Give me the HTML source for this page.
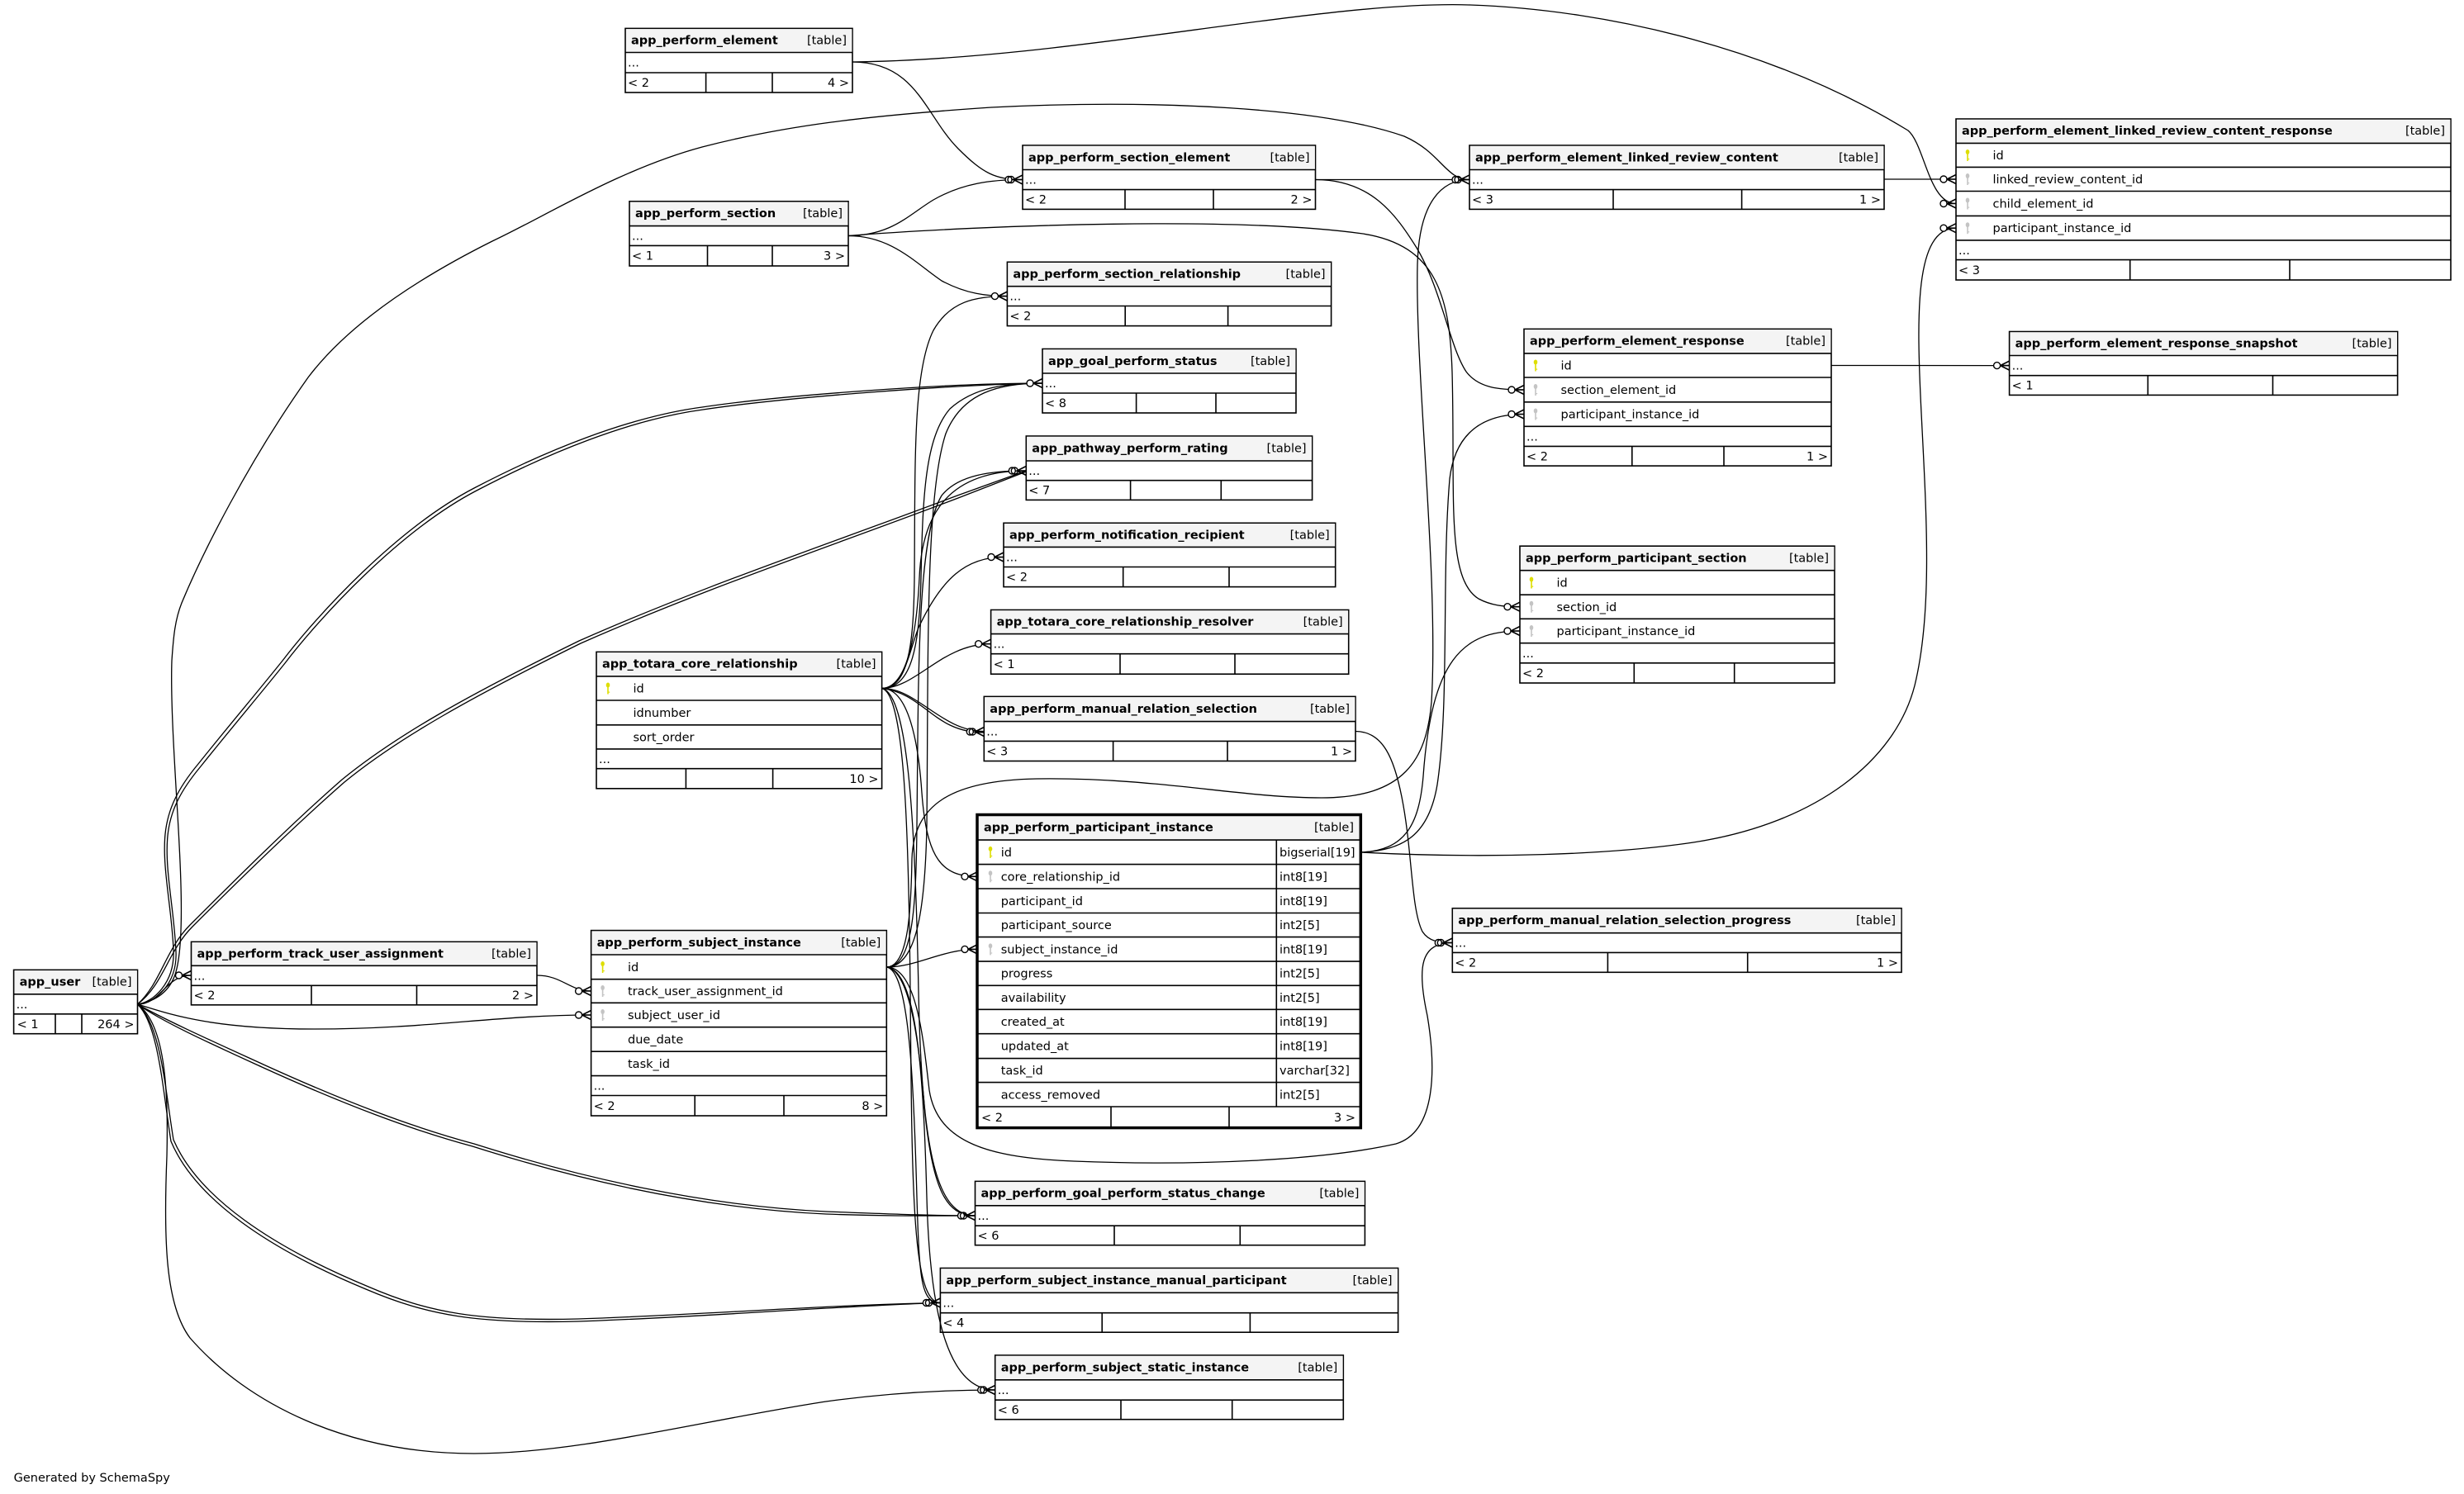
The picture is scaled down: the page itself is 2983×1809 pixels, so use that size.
<!DOCTYPE html>
<html><head><meta charset="utf-8"><style>
html,body{margin:0;padding:0;background:#fff;}
svg{display:block;}
text{font-family:"DejaVu Sans","Liberation Sans",sans-serif;font-size:14.5px;fill:#000;}
.b{font-weight:bold;}
.e{text-anchor:end;}
.bx{fill:#fff;stroke:#000;stroke-width:1.6;}
.hd{fill:#f4f4f4;stroke:none;}
.ln{stroke:#000;stroke-width:1.6;}
.ed{fill:none;stroke:#000;stroke-width:1.3;}
</style></head><body>
<svg width="2983" height="1809" viewBox="0 0 2983 1809" xmlns="http://www.w3.org/2000/svg">
<defs>
<g id="cf"><path d="M-11,0 L0,-5.5 M-11,0 L0,0 M-11,0 L0,5.5" stroke="#000" stroke-width="1.6" fill="none"/><circle cx="-15" cy="0" r="4" fill="#fff" stroke="#000" stroke-width="1.4"/></g>
<g id="cf2"><path d="M-11,0 L0,-5.5 M-11,0 L0,0 M-11,0 L0,5.5" stroke="#000" stroke-width="1.6" fill="none"/><circle cx="-17" cy="0" r="4" fill="#fff" stroke="#000" stroke-width="1.4"/><circle cx="-14" cy="0" r="4" fill="none" stroke="#000" stroke-width="1.4"/></g>
<g id="pk"><ellipse cx="0" cy="-4" rx="2.3" ry="3" fill="#dede00"/><rect x="-0.8" y="-2" width="1.6" height="9" fill="#dede00"/><rect x="0.6" y="4" width="1.6" height="1.2" fill="#dede00"/></g>
<g id="fk"><ellipse cx="0" cy="-4" rx="2.3" ry="3" fill="#c4c4c4"/><rect x="-0.8" y="-2" width="1.6" height="9" fill="#c4c4c4"/><rect x="0.6" y="4" width="1.6" height="1.2" fill="#c4c4c4"/></g>
</defs>

<!-- ===================== TABLES ===================== -->
<!-- T1 app_perform_element -->
<rect class="bx" x="757" y="34.4" width="275" height="77.6"/>
<rect class="hd" x="758" y="35.2" width="273.4" height="28.3"/>
<line class="ln" x1="757" y1="63.5" x2="1032" y2="63.5"/><line class="ln" x1="757" y1="88" x2="1032" y2="88"/>
<line class="ln" x1="854.6" y1="88" x2="854.6" y2="112"/><line class="ln" x1="935" y1="88" x2="935" y2="112"/>
<text class="b" x="764" y="53.5">app_perform_element</text><text class="e" x="1025" y="53.5">[table]</text>
<text x="760" y="80.7">...</text>
<text x="760" y="105">&lt; 2</text><text class="e" x="1028" y="105">4 &gt;</text>

<!-- T2 app_perform_section -->
<rect class="bx" x="762" y="243.8" width="265" height="78.2"/>
<rect class="hd" x="763" y="244.6" width="263.4" height="28.6"/>
<line class="ln" x1="762" y1="273.6" x2="1027" y2="273.6"/><line class="ln" x1="762" y1="297.4" x2="1027" y2="297.4"/>
<line class="ln" x1="856.5" y1="297.4" x2="856.5" y2="322"/><line class="ln" x1="935" y1="297.4" x2="935" y2="322"/>
<text class="b" x="769" y="263.2">app_perform_section</text><text class="e" x="1020" y="263.2">[table]</text>
<text x="765" y="290.5">...</text>
<text x="765" y="314.7">&lt; 1</text><text class="e" x="1023" y="314.7">3 &gt;</text>

<!-- T3 app_perform_section_element -->
<rect class="bx" x="1238" y="176" width="354.5" height="77.4"/>
<rect class="hd" x="1239" y="176.8" width="352.9" height="28.3"/>
<line class="ln" x1="1238" y1="205.5" x2="1592.5" y2="205.5"/><line class="ln" x1="1238" y1="229.6" x2="1592.5" y2="229.6"/>
<line class="ln" x1="1362" y1="229.6" x2="1362" y2="253.4"/><line class="ln" x1="1469" y1="229.6" x2="1469" y2="253.4"/>
<text class="b" x="1245" y="195.3">app_perform_section_element</text><text class="e" x="1585.5" y="195.3">[table]</text>
<text x="1241" y="222.5">...</text>
<text x="1241" y="246.5">&lt; 2</text><text class="e" x="1588.5" y="246.5">2 &gt;</text>

<!-- T4 app_perform_element_linked_review_content -->
<rect class="bx" x="1779" y="176" width="502" height="77.4"/>
<rect class="hd" x="1780" y="176.8" width="500.4" height="28.3"/>
<line class="ln" x1="1779" y1="205.5" x2="2281" y2="205.5"/><line class="ln" x1="1779" y1="229.6" x2="2281" y2="229.6"/>
<line class="ln" x1="1953" y1="229.6" x2="1953" y2="253.4"/><line class="ln" x1="2108.6" y1="229.6" x2="2108.6" y2="253.4"/>
<text class="b" x="1786" y="195.3">app_perform_element_linked_review_content</text><text class="e" x="2274" y="195.3">[table]</text>
<text x="1782" y="222.5">...</text>
<text x="1782" y="246.5">&lt; 3</text><text class="e" x="2277" y="246.5">1 &gt;</text>

<!-- T5 app_perform_element_linked_review_content_response -->
<rect class="bx" x="2368" y="144" width="599" height="195"/>
<rect class="hd" x="2369" y="144.8" width="597.4" height="28.2"/>
<line class="ln" x1="2368" y1="173.4" x2="2967" y2="173.4"/><line class="ln" x1="2368" y1="202.4" x2="2967" y2="202.4"/>
<line class="ln" x1="2368" y1="231.5" x2="2967" y2="231.5"/><line class="ln" x1="2368" y1="261.4" x2="2967" y2="261.4"/>
<line class="ln" x1="2368" y1="290.9" x2="2967" y2="290.9"/><line class="ln" x1="2368" y1="314.6" x2="2967" y2="314.6"/>
<line class="ln" x1="2578.7" y1="314.6" x2="2578.7" y2="339"/><line class="ln" x1="2772" y1="314.6" x2="2772" y2="339"/>
<text class="b" x="2375" y="163.2">app_perform_element_linked_review_content_response</text><text class="e" x="2960" y="163.2">[table]</text>
<use href="#pk" x="2382" y="188"/><text x="2412.5" y="192.9">id</text>
<use href="#fk" x="2382" y="217"/><text x="2412.5" y="222">linked_review_content_id</text>
<use href="#fk" x="2382" y="246.5"/><text x="2412.5" y="251.5">child_element_id</text>
<use href="#fk" x="2382" y="276.2"/><text x="2412.5" y="281.2">participant_instance_id</text>
<text x="2371" y="307.8">...</text>
<text x="2371" y="331.8">&lt; 3</text>

<!-- T6 app_perform_section_relationship -->
<rect class="bx" x="1219.4" y="317.3" width="392.2" height="77.3"/>
<rect class="hd" x="1220.4" y="318.1" width="390.6" height="28.2"/>
<line class="ln" x1="1219.4" y1="346.7" x2="1611.6" y2="346.7"/><line class="ln" x1="1219.4" y1="370.5" x2="1611.6" y2="370.5"/>
<line class="ln" x1="1362.2" y1="370.5" x2="1362.2" y2="394.6"/><line class="ln" x1="1486.6" y1="370.5" x2="1486.6" y2="394.6"/>
<text class="b" x="1226.4" y="336.5">app_perform_section_relationship</text><text class="e" x="1604.6" y="336.5">[table]</text>
<text x="1222.4" y="363.6">...</text>
<text x="1222.4" y="387.6">&lt; 2</text>

<!-- T7 app_goal_perform_status -->
<rect class="bx" x="1262" y="422.5" width="307" height="77.5"/>
<rect class="hd" x="1263" y="423.3" width="305.4" height="28.3"/>
<line class="ln" x1="1262" y1="452" x2="1569" y2="452"/><line class="ln" x1="1262" y1="476" x2="1569" y2="476"/>
<line class="ln" x1="1375.6" y1="476" x2="1375.6" y2="500"/><line class="ln" x1="1472" y1="476" x2="1472" y2="500"/>
<text class="b" x="1269" y="441.8">app_goal_perform_status</text><text class="e" x="1562" y="441.8">[table]</text>
<text x="1265" y="469">...</text>
<text x="1265" y="493">&lt; 8</text>

<!-- T8 app_pathway_perform_rating -->
<rect class="bx" x="1242.3" y="528" width="346.3" height="77.4"/>
<rect class="hd" x="1243.3" y="528.8" width="344.7" height="28.8"/>
<line class="ln" x1="1242.3" y1="558" x2="1588.6" y2="558"/><line class="ln" x1="1242.3" y1="581.7" x2="1588.6" y2="581.7"/>
<line class="ln" x1="1368.6" y1="581.7" x2="1368.6" y2="605.4"/><line class="ln" x1="1478.3" y1="581.7" x2="1478.3" y2="605.4"/>
<text class="b" x="1249.3" y="547.5">app_pathway_perform_rating</text><text class="e" x="1581.6" y="547.5">[table]</text>
<text x="1245.3" y="574.9">...</text>
<text x="1245.3" y="598.6">&lt; 7</text>

<!-- T9 app_perform_element_response -->
<rect class="bx" x="1845" y="398.4" width="372" height="165.7"/>
<rect class="hd" x="1846" y="399.2" width="370.4" height="28.3"/>
<line class="ln" x1="1845" y1="427.9" x2="2217" y2="427.9"/><line class="ln" x1="1845" y1="457" x2="2217" y2="457"/>
<line class="ln" x1="1845" y1="486.8" x2="2217" y2="486.8"/><line class="ln" x1="1845" y1="516.3" x2="2217" y2="516.3"/>
<line class="ln" x1="1845" y1="540.4" x2="2217" y2="540.4"/>
<line class="ln" x1="1975.8" y1="540.4" x2="1975.8" y2="564.1"/><line class="ln" x1="2087" y1="540.4" x2="2087" y2="564.1"/>
<text class="b" x="1852" y="417.7">app_perform_element_response</text><text class="e" x="2210" y="417.7">[table]</text>
<use href="#pk" x="1859" y="442.5"/><text x="1889.5" y="447.5">id</text>
<use href="#fk" x="1859" y="472"/><text x="1889.5" y="476.9">section_element_id</text>
<use href="#fk" x="1859" y="501.5"/><text x="1889.5" y="506.6">participant_instance_id</text>
<text x="1848" y="533.4">...</text>
<text x="1848" y="557.3">&lt; 2</text><text class="e" x="2213" y="557.3">1 &gt;</text>

<!-- T10 app_perform_element_response_snapshot -->
<rect class="bx" x="2432.6" y="401.5" width="470" height="76.9"/>
<rect class="hd" x="2433.6" y="402.3" width="468.4" height="27.8"/>
<line class="ln" x1="2432.6" y1="430.5" x2="2902.6" y2="430.5"/><line class="ln" x1="2432.6" y1="454.7" x2="2902.6" y2="454.7"/>
<line class="ln" x1="2600.3" y1="454.7" x2="2600.3" y2="478.4"/><line class="ln" x1="2751.5" y1="454.7" x2="2751.5" y2="478.4"/>
<text class="b" x="2439.6" y="420.5">app_perform_element_response_snapshot</text><text class="e" x="2895.6" y="420.5">[table]</text>
<text x="2435.6" y="447.6">...</text>
<text x="2435.6" y="471.6">&lt; 1</text>

<!-- T11 app_perform_notification_recipient -->
<rect class="bx" x="1215" y="633.3" width="401.7" height="77.3"/>
<rect class="hd" x="1216" y="634.1" width="400.1" height="27.9"/>
<line class="ln" x1="1215" y1="662.4" x2="1616.7" y2="662.4"/><line class="ln" x1="1215" y1="686.5" x2="1616.7" y2="686.5"/>
<line class="ln" x1="1359.7" y1="686.5" x2="1359.7" y2="710.6"/><line class="ln" x1="1488" y1="686.5" x2="1488" y2="710.6"/>
<text class="b" x="1222" y="652.4">app_perform_notification_recipient</text><text class="e" x="1609.7" y="652.4">[table]</text>
<text x="1218" y="679.5">...</text>
<text x="1218" y="703.6">&lt; 2</text>

<!-- T12 app_totara_core_relationship_resolver -->
<rect class="bx" x="1199.6" y="738.5" width="433.1" height="77.7"/>
<rect class="hd" x="1200.6" y="739.3" width="431.5" height="27.9"/>
<line class="ln" x1="1199.6" y1="767.6" x2="1632.7" y2="767.6"/><line class="ln" x1="1199.6" y1="791.7" x2="1632.7" y2="791.7"/>
<line class="ln" x1="1356" y1="791.7" x2="1356" y2="816.2"/><line class="ln" x1="1495" y1="791.7" x2="1495" y2="816.2"/>
<text class="b" x="1206.6" y="757.6">app_totara_core_relationship_resolver</text><text class="e" x="1625.7" y="757.6">[table]</text>
<text x="1202.6" y="784.7">...</text>
<text x="1202.6" y="809">&lt; 1</text>

<!-- T13 app_perform_manual_relation_selection -->
<rect class="bx" x="1191.3" y="843.4" width="449.7" height="78.1"/>
<rect class="hd" x="1192.3" y="844.2" width="448.1" height="29"/>
<line class="ln" x1="1191.3" y1="873.6" x2="1641" y2="873.6"/><line class="ln" x1="1191.3" y1="897.4" x2="1641" y2="897.4"/>
<line class="ln" x1="1347.6" y1="897.4" x2="1347.6" y2="921.5"/><line class="ln" x1="1486" y1="897.4" x2="1486" y2="921.5"/>
<text class="b" x="1198.3" y="863">app_perform_manual_relation_selection</text><text class="e" x="1634" y="863">[table]</text>
<text x="1194.3" y="890.5">...</text>
<text x="1194.3" y="914.5">&lt; 3</text><text class="e" x="1637" y="914.5">1 &gt;</text>

<!-- T14 app_perform_participant_section -->
<rect class="bx" x="1840" y="661.2" width="381" height="165.8"/>
<rect class="hd" x="1841" y="662" width="379.4" height="28.3"/>
<line class="ln" x1="1840" y1="690.7" x2="2221" y2="690.7"/><line class="ln" x1="1840" y1="720.2" x2="2221" y2="720.2"/>
<line class="ln" x1="1840" y1="749.3" x2="2221" y2="749.3"/><line class="ln" x1="1840" y1="778.7" x2="2221" y2="778.7"/>
<line class="ln" x1="1840" y1="802.8" x2="2221" y2="802.8"/>
<line class="ln" x1="1978.3" y1="802.8" x2="1978.3" y2="827"/><line class="ln" x1="2099.7" y1="802.8" x2="2099.7" y2="827"/>
<text class="b" x="1847" y="680.5">app_perform_participant_section</text><text class="e" x="2214" y="680.5">[table]</text>
<use href="#pk" x="1854" y="705.5"/><text x="1884.5" y="710.5">id</text>
<use href="#fk" x="1854" y="734.7"/><text x="1884.5" y="739.8">section_id</text>
<use href="#fk" x="1854" y="764"/><text x="1884.5" y="769">participant_instance_id</text>
<text x="1843" y="795.8">...</text>
<text x="1843" y="820">&lt; 2</text>

<!-- T15 app_totara_core_relationship -->
<rect class="bx" x="722" y="789.4" width="345.6" height="165.4"/>
<rect class="hd" x="723" y="790.2" width="344" height="28.3"/>
<line class="ln" x1="722" y1="818.9" x2="1067.6" y2="818.9"/><line class="ln" x1="722" y1="848" x2="1067.6" y2="848"/>
<line class="ln" x1="722" y1="877.8" x2="1067.6" y2="877.8"/><line class="ln" x1="722" y1="906.9" x2="1067.6" y2="906.9"/>
<line class="ln" x1="722" y1="930.7" x2="1067.6" y2="930.7"/>
<line class="ln" x1="830.4" y1="930.7" x2="830.4" y2="954.8"/><line class="ln" x1="935.6" y1="930.7" x2="935.6" y2="954.8"/>
<text class="b" x="729" y="808.7">app_totara_core_relationship</text><text class="e" x="1060.6" y="808.7">[table]</text>
<use href="#pk" x="736" y="833.5"/><text x="766.5" y="838.5">id</text>
<text x="766.5" y="867.9">idnumber</text>
<text x="766.5" y="897.4">sort_order</text>
<text x="725" y="923.8">...</text>
<text class="e" x="1063.6" y="947.8">10 &gt;</text>

<!-- T16 app_perform_participant_instance -->
<rect x="1183" y="986.5" width="464.3" height="379.1" fill="#fff" stroke="none"/>
<rect class="hd" x="1184" y="987.5" width="462.3" height="29.6"/>
<line class="ln" x1="1183" y1="1017.1" x2="1647.3" y2="1017.1"/>
<line class="ln" x1="1183" y1="1046.6" x2="1647.3" y2="1046.6"/>
<line class="ln" x1="1183" y1="1076" x2="1647.3" y2="1076"/>
<line class="ln" x1="1183" y1="1105.5" x2="1647.3" y2="1105.5"/>
<line class="ln" x1="1183" y1="1134.6" x2="1647.3" y2="1134.6"/>
<line class="ln" x1="1183" y1="1164.1" x2="1647.3" y2="1164.1"/>
<line class="ln" x1="1183" y1="1193.3" x2="1647.3" y2="1193.3"/>
<line class="ln" x1="1183" y1="1222.3" x2="1647.3" y2="1222.3"/>
<line class="ln" x1="1183" y1="1251.7" x2="1647.3" y2="1251.7"/>
<line class="ln" x1="1183" y1="1281.6" x2="1647.3" y2="1281.6"/>
<line class="ln" x1="1183" y1="1310.6" x2="1647.3" y2="1310.6"/>
<line class="ln" x1="1183" y1="1340" x2="1647.3" y2="1340"/>
<line class="ln" x1="1545.3" y1="1017.1" x2="1545.3" y2="1340"/>
<line class="ln" x1="1345" y1="1340" x2="1345" y2="1365.6"/><line class="ln" x1="1488" y1="1340" x2="1488" y2="1365.6"/>
<rect x="1183" y="986.5" width="464.3" height="379.1" fill="none" stroke="#000" stroke-width="3.5"/>
<text class="b" x="1191" y="1006.3">app_perform_participant_instance</text><text class="e" x="1639" y="1006.3">[table]</text>
<use href="#pk" x="1199" y="1031.9"/><text x="1211.7" y="1036.9">id</text><text x="1549" y="1036.9">bigserial[19]</text>
<use href="#fk" x="1199" y="1061.3"/><text x="1211.7" y="1066.3">core_relationship_id</text><text x="1549" y="1066.3">int8[19]</text>
<text x="1211.7" y="1095.8">participant_id</text><text x="1549" y="1095.8">int8[19]</text>
<text x="1211.7" y="1125.1">participant_source</text><text x="1549" y="1125.1">int2[5]</text>
<use href="#fk" x="1199" y="1149.4"/><text x="1211.7" y="1154.4">subject_instance_id</text><text x="1549" y="1154.4">int8[19]</text>
<text x="1211.7" y="1183.7">progress</text><text x="1549" y="1183.7">int2[5]</text>
<text x="1211.7" y="1212.8">availability</text><text x="1549" y="1212.8">int2[5]</text>
<text x="1211.7" y="1242">created_at</text><text x="1549" y="1242">int8[19]</text>
<text x="1211.7" y="1271.7">updated_at</text><text x="1549" y="1271.7">int8[19]</text>
<text x="1211.7" y="1301.1">task_id</text><text x="1549" y="1301.1">varchar[32]</text>
<text x="1211.7" y="1330.3">access_removed</text><text x="1549" y="1330.3">int2[5]</text>
<text x="1188" y="1357.8">&lt; 2</text><text class="e" x="1641" y="1357.8">3 &gt;</text>

<!-- T17 app_perform_manual_relation_selection_progress -->
<rect class="bx" x="1758.3" y="1099.8" width="543.7" height="77.5"/>
<rect class="hd" x="1759.3" y="1100.6" width="542.1" height="28.7"/>
<line class="ln" x1="1758.3" y1="1129.7" x2="2302" y2="1129.7"/><line class="ln" x1="1758.3" y1="1153.4" x2="2302" y2="1153.4"/>
<line class="ln" x1="1946.4" y1="1153.4" x2="1946.4" y2="1177.3"/><line class="ln" x1="2115.7" y1="1153.4" x2="2115.7" y2="1177.3"/>
<text class="b" x="1765.3" y="1119.2">app_perform_manual_relation_selection_progress</text><text class="e" x="2295" y="1119.2">[table]</text>
<text x="1761.3" y="1146.6">...</text>
<text x="1761.3" y="1170.4">&lt; 2</text><text class="e" x="2298" y="1170.4">1 &gt;</text>

<!-- T18 app_user -->
<rect class="bx" x="16.6" y="1174.4" width="149.9" height="77.3"/>
<rect class="hd" x="17.6" y="1175.2" width="148.3" height="28.2"/>
<line class="ln" x1="16.6" y1="1203.8" x2="166.5" y2="1203.8"/><line class="ln" x1="16.6" y1="1227.8" x2="166.5" y2="1227.8"/>
<line class="ln" x1="67" y1="1227.8" x2="67" y2="1251.7"/><line class="ln" x1="99" y1="1227.8" x2="99" y2="1251.7"/>
<text class="b" x="23.6" y="1193.6">app_user</text><text class="e" x="159.5" y="1193.6">[table]</text>
<text x="19.6" y="1220.8">...</text>
<text x="20.6" y="1244.8">&lt; 1</text><text class="e" x="162.5" y="1244.8">264 &gt;</text>

<!-- T19 app_perform_track_user_assignment -->
<rect class="bx" x="231.5" y="1140.4" width="418.5" height="76.4"/>
<rect class="hd" x="232.5" y="1141.2" width="416.9" height="27.7"/>
<line class="ln" x1="231.5" y1="1169.3" x2="650" y2="1169.3"/><line class="ln" x1="231.5" y1="1193.3" x2="650" y2="1193.3"/>
<line class="ln" x1="377" y1="1193.3" x2="377" y2="1216.8"/><line class="ln" x1="504.5" y1="1193.3" x2="504.5" y2="1216.8"/>
<text class="b" x="238.5" y="1159.4">app_perform_track_user_assignment</text><text class="e" x="643" y="1159.4">[table]</text>
<text x="234.5" y="1186.3">...</text>
<text x="234.5" y="1210">&lt; 2</text><text class="e" x="646" y="1210">2 &gt;</text>

<!-- T20 app_perform_subject_instance -->
<rect class="bx" x="715.6" y="1126.6" width="357.7" height="224.4"/>
<rect class="hd" x="716.6" y="1127.4" width="356.1" height="28.2"/>
<line class="ln" x1="715.6" y1="1156" x2="1073.3" y2="1156"/><line class="ln" x1="715.6" y1="1185.7" x2="1073.3" y2="1185.7"/>
<line class="ln" x1="715.6" y1="1214.3" x2="1073.3" y2="1214.3"/><line class="ln" x1="715.6" y1="1243.7" x2="1073.3" y2="1243.7"/>
<line class="ln" x1="715.6" y1="1273.2" x2="1073.3" y2="1273.2"/><line class="ln" x1="715.6" y1="1302.6" x2="1073.3" y2="1302.6"/>
<line class="ln" x1="715.6" y1="1326.5" x2="1073.3" y2="1326.5"/>
<line class="ln" x1="841.2" y1="1326.5" x2="841.2" y2="1351"/><line class="ln" x1="949" y1="1326.5" x2="949" y2="1351"/>
<text class="b" x="722.6" y="1145.8">app_perform_subject_instance</text><text class="e" x="1066.3" y="1145.8">[table]</text>
<use href="#pk" x="729.6" y="1171"/><text x="760" y="1175.9">id</text>
<use href="#fk" x="729.6" y="1200"/><text x="760" y="1205">track_user_assignment_id</text>
<use href="#fk" x="729.6" y="1229"/><text x="760" y="1234">subject_user_id</text>
<text x="760" y="1263.5">due_date</text>
<text x="760" y="1292.9">task_id</text>
<text x="718.6" y="1319.6">...</text>
<text x="718.6" y="1343.8">&lt; 2</text><text class="e" x="1069.3" y="1343.8">8 &gt;</text>

<!-- T21 app_perform_goal_perform_status_change -->
<rect class="bx" x="1180.5" y="1430.4" width="471.9" height="77.3"/>
<rect class="hd" x="1181.5" y="1431.2" width="470.3" height="28.2"/>
<line class="ln" x1="1180.5" y1="1459.8" x2="1652.4" y2="1459.8"/><line class="ln" x1="1180.5" y1="1484.2" x2="1652.4" y2="1484.2"/>
<line class="ln" x1="1349" y1="1484.2" x2="1349" y2="1507.7"/><line class="ln" x1="1501.3" y1="1484.2" x2="1501.3" y2="1507.7"/>
<text class="b" x="1187.5" y="1449.6">app_perform_goal_perform_status_change</text><text class="e" x="1645.4" y="1449.6">[table]</text>
<text x="1183.5" y="1477">...</text>
<text x="1183.5" y="1501">&lt; 6</text>

<!-- T22 app_perform_subject_instance_manual_participant -->
<rect class="bx" x="1138.4" y="1535.5" width="554.2" height="77.7"/>
<rect class="hd" x="1139.4" y="1536.3" width="552.6" height="28.6"/>
<line class="ln" x1="1138.4" y1="1565.3" x2="1692.6" y2="1565.3"/><line class="ln" x1="1138.4" y1="1589.7" x2="1692.6" y2="1589.7"/>
<line class="ln" x1="1334.2" y1="1589.7" x2="1334.2" y2="1613.2"/><line class="ln" x1="1513.4" y1="1589.7" x2="1513.4" y2="1613.2"/>
<text class="b" x="1145.4" y="1554.9">app_perform_subject_instance_manual_participant</text><text class="e" x="1685.6" y="1554.9">[table]</text>
<text x="1141.4" y="1582.5">...</text>
<text x="1141.4" y="1606.5">&lt; 4</text>

<!-- T23 app_perform_subject_static_instance -->
<rect class="bx" x="1204.7" y="1641" width="421.6" height="77.7"/>
<rect class="hd" x="1205.7" y="1641.8" width="420" height="28.6"/>
<line class="ln" x1="1204.7" y1="1670.8" x2="1626.3" y2="1670.8"/><line class="ln" x1="1204.7" y1="1695.2" x2="1626.3" y2="1695.2"/>
<line class="ln" x1="1357" y1="1695.2" x2="1357" y2="1718.7"/><line class="ln" x1="1491.7" y1="1695.2" x2="1491.7" y2="1718.7"/>
<text class="b" x="1211.7" y="1660.4">app_perform_subject_static_instance</text><text class="e" x="1619.3" y="1660.4">[table]</text>
<text x="1207.7" y="1688">...</text>
<text x="1207.7" y="1712">&lt; 6</text>

<text x="16.6" y="1794">Generated by SchemaSpy</text>

<!-- ===================== EDGES ===================== -->
<g class="ed">
<!-- app_perform_element -->
<path d="M1032,75 C1300,72 1600,0 1780,6 C1950,12 2150,60 2310,158 C2330,175 2335,246.5 2368,246.5"/>
<path d="M1032,75 C1110,75 1120,140 1160,180 C1190,210 1205,217.5 1238,217.5"/>
<!-- app_perform_section -->
<path d="M1027,285.5 C1080,285 1100,260 1130,242 C1165,222 1200,217.5 1238,217.5"/>
<path d="M1027,285.5 C1080,285.5 1110,320 1140,340 C1170,356 1195,358.6 1219.4,358.6"/>
<path d="M1027,285.5 C1200,272 1500,262 1650,283 C1740,297 1755,360 1758,450 C1762,600 1750,700 1790,725 C1805,733 1820,734.7 1840,734.7"/>
<!-- section_element -->
<path d="M1592.5,217.5 L1779,217.5"/>
<path d="M1592.5,217.5 C1660,217.5 1690,260 1715,300 C1745,350 1755,420 1775,450 C1790,470 1815,472 1845,472"/>
<!-- linked_review_content -> response -->
<path d="M2281,217 L2368,217"/>
<!-- element_response -> snapshot -->
<path d="M2217,442.5 L2432.6,442.6"/>
<!-- participant_instance id -->
<path d="M1647.3,1032 C1700,1030 1730,1010 1740,950 C1755,850 1745,700 1755,580 C1762,520 1800,501.5 1845,501.5"/>
<path d="M1647.3,1032 C1700,1030 1718,1000 1723,940 C1733,800 1770,764 1840,764"/>
<path d="M1647.3,1032 C1800,1040 1950,1035 2050,1020 C2200,997 2295,920 2318,830 C2340,740 2332,620 2326,500 C2320,380 2318,276.2 2368,276.2"/>
<!-- manual_relation_selection -> progress -->
<path d="M1641,885.5 C1675,885.5 1688,920 1697,965 C1710,1030 1708,1100 1722,1128 C1730,1140 1742,1141.5 1758.3,1141.5"/>
<!-- track -> subject_instance -->
<path d="M650,1181 C680,1181 690,1200 715.6,1200"/>
<!-- app_user fan -->
<path d="M166.5,1216 C195,1216 200,1181 231.5,1181"/>
<path d="M166.5,1216 C200,1226 250,1246 380,1246 C520,1246 600,1229 715.6,1229"/>
<path d="M166.5,1216 C190,1212 205,1200 212,1180 C222,1150 220,1080 217,1023 C214,960 206,860 208,800 C210,770 212,750 220,730 C245,670 300,560 373,457 C420,395 500,340 596,292 C660,262 750,205 850,178 C950,152 1050,140 1200,130 C1400,120 1600,130 1700,165 C1745,185 1750,217.5 1779,217.5"/>
<path d="M166.5,1216 C185,1214 212,1190 210,1150 C208,1100 196,1050 200,1010 C203,980 215,955 240,925 C280,875 310,840 342,800 C384,745 480,640 574,591 C660,546 760,505 850,493 C950,478 1150,464 1262,464"/>
<path d="M166.5,1216 C187,1215 215,1192 213,1152 C211,1102 199,1052 203,1012 C206,982 218,958 243,928 C283,878 313,843 345,803 C387,748 483,643 577,594 C663,549 762,508 851,496 C951,481 1150,466 1262,464"/>
<path d="M166.5,1216 C195,1190 200,1150 230,1120 C280,1070 350,1000 414,944 C480,890 570,840 701,776 C850,710 1000,660 1159,600 L1242.3,570"/>
<path d="M166.5,1216 C198,1192 203,1152 233,1122 C283,1072 353,1003 417,947 C483,893 573,843 703,779 C852,713 1002,663 1160,603 L1242.3,571"/>
<path d="M166.5,1216 C200,1235 260,1262 319,1289 C420,1335 500,1365 574,1385 C700,1425 850,1460 1000,1467 C1080,1470 1130,1472 1180.5,1472"/>
<path d="M166.5,1216 C198,1238 258,1265 317,1292 C418,1338 498,1368 572,1388 C698,1428 848,1463 1000,1470 C1080,1473 1130,1472 1180.5,1472"/>
<path d="M166.5,1216 C195,1240 200,1320 210,1380 C240,1450 330,1510 446,1558 C520,1590 580,1600 700,1597 C850,1592 1000,1580 1138.4,1577.5"/>
<path d="M166.5,1216 C192,1240 197,1320 207,1382 C237,1453 327,1513 443,1561 C518,1593 578,1603 700,1600 C850,1595 1000,1582 1138.4,1577.5"/>
<path d="M166.5,1216 C200,1240 204,1320 202,1400 C198,1500 200,1580 230,1620 C300,1700 420,1760 574,1760 C700,1760 850,1720 1000,1697 C1080,1686 1150,1683 1204.7,1683"/>
<!-- core_relationship fan -->
<path d="M1067.6,833.5 C1100,833 1106,780 1107,700 C1108,560 1105,450 1130,400 C1150,365 1180,358.6 1219.4,358.6"/>
<path d="M1067.6,833.5 C1105,833 1113,780 1115,700 C1117,600 1120,530 1150,495 C1180,468 1220,464 1262,464"/>
<path d="M1067.6,833.5 C1100,833 1110,760 1113,700 C1116,620 1150,570 1242.3,570"/>
<path d="M1067.6,833.5 C1095,833 1100,790 1112,760 C1140,700 1170,674.5 1215,674.5"/>
<path d="M1067.6,833.5 C1110,833 1140,779.7 1199.6,779.7"/>
<path d="M1067.6,833.5 C1110,833 1140,885.5 1191.3,885.5"/>
<path d="M1067.6,833.5 C1120,840 1130,887 1191.3,887"/>
<path d="M1067.6,833.5 C1100,833 1112,900 1116,960 C1122,1040 1140,1061.3 1183,1061.3"/>
<path d="M1067.6,833.5 C1100,840 1108,1000 1112,1200 C1116,1400 1135,1472 1180.5,1472"/>
<path d="M1067.6,833.5 C1095,840 1100,1000 1102,1200 C1104,1450 1105,1577.5 1138.4,1577.5"/>
<!-- subject_instance fan -->
<path d="M1073.3,1171 C1110,1171 1140,1149.4 1183,1149.4"/>
<path d="M1073.3,1171 C1110,1171 1120,1100 1122,1000 C1124,800 1120,600 1145,525 C1165,475 1210,464 1262,464"/>
<path d="M1073.3,1171 C1105,1171 1109,1100 1110,1000 C1112,820 1110,650 1140,600 C1160,575 1200,570 1242.3,570"/>
<path d="M1073.3,1171 C1100,1175 1112,1250 1120,1350 C1130,1440 1145,1472 1180.5,1472"/>
<path d="M1073.3,1171 C1100,1175 1106,1300 1110,1450 C1113,1550 1115,1577.5 1138.4,1577.5"/>
<path d="M1073.3,1171 C1110,1175 1118,1300 1122,1450 C1126,1600 1150,1683 1204.7,1683"/>
<path d="M1073.3,1171 C1100,1171 1103,1100 1104,1040 C1106,975 1150,945 1255,943 C1400,941 1500,966 1600,966 C1700,966 1727,920 1733,850 C1742,700 1713,450 1716,320 C1718,245 1745,217.5 1779,217.5"/>
<path d="M1073.3,1171 C1110,1171 1118,1260 1125,1320 C1135,1385 1200,1402 1300,1406 C1450,1412 1600,1405 1690,1385 C1740,1370 1738,1290 1728,1230 C1715,1170 1720,1141.5 1758.3,1141.5"/>
</g>

<!-- ===================== MARKERS ===================== -->
<use href="#cf" x="231.5" y="1181"/>
<use href="#cf" x="715.6" y="1200"/>
<use href="#cf" x="715.6" y="1229"/>
<use href="#cf2" x="1779" y="217.5"/>
<use href="#cf" x="1262" y="464"/>
<use href="#cf2" x="1242.3" y="570"/>
<use href="#cf2" x="1180.5" y="1472"/>
<use href="#cf2" x="1138.4" y="1577.5"/>
<use href="#cf2" x="1204.7" y="1683"/>
<use href="#cf" x="1219.4" y="358.6"/>
<use href="#cf" x="1215" y="674.5"/>
<use href="#cf" x="1199.6" y="779.7"/>
<use href="#cf2" x="1191.3" y="886"/>
<use href="#cf" x="1183" y="1061.3"/>
<use href="#cf" x="1183" y="1149.4"/>
<use href="#cf2" x="1238" y="217.5"/>
<use href="#cf" x="2368" y="246.5"/>
<use href="#cf" x="2368" y="217"/>
<use href="#cf" x="2368" y="276.2"/>
<use href="#cf" x="1845" y="472"/>
<use href="#cf" x="1845" y="501.5"/>
<use href="#cf" x="2432.6" y="442.6"/>
<use href="#cf" x="1840" y="734.7"/>
<use href="#cf" x="1840" y="764"/>
<use href="#cf2" x="1758.3" y="1141.5"/>
</svg>
</body></html>
